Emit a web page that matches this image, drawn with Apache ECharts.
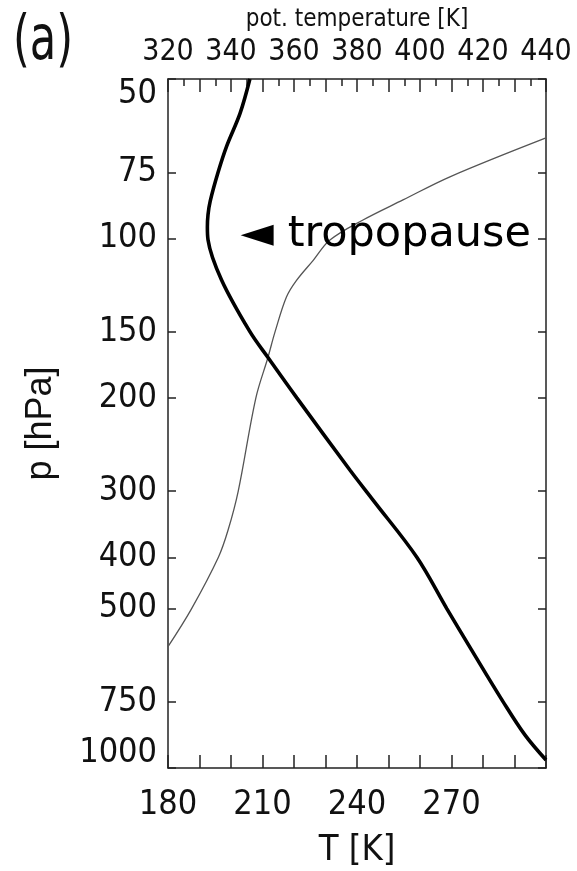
<!DOCTYPE html>
<html>
<head>
<meta charset="utf-8">
<script src="https://cdn.jsdelivr.net/npm/echarts@6/dist/echarts.min.js"></script>
<style>html,body{margin:0;padding:0;background:#fff}#c{width:577px;height:871px}</style>
</head>
<body>
<div id="c"></div>
<script>
// Pressure tick labels [hPa]
const pressureTicks = [50, 75, 100, 150, 200, 300, 400, 500, 750, 1000];
// Temperature profile (thick line): T [K] vs p [hPa]
const tempT = [206.0, 202.9, 198.6, 195.9, 193.4, 192.7, 192.5, 192.7, 197.0, 206.0, 211.8, 220.9, 237.8, 245.1, 259.0, 268.5, 276.4, 286.4, 293.3, 300.0];
const tempP = [50, 58, 67, 75, 85, 90.2, 95.2, 100.6, 119.8, 150, 168, 200, 274, 312, 400, 500, 599, 750, 866, 966];
// Potential temperature profile (thin line): theta [K] vs p [hPa]
const thetaV = [320, 327.5, 336, 339.1, 342.3, 347.9, 351.7, 354, 357.6, 360.8, 366.1, 371.4, 381.9, 394.6, 409.5, 440];
const thetaP = [590, 500, 400, 355, 300, 200, 168, 150, 129, 120, 110, 100.7, 92.3, 84.6, 76.5, 64.6];
// Annotation anchor (arrow tip region)
const tropopauseT = 208.3;
const tropopauseP = 98.6;

const FN = '"Liberation Sans Narrow", "DejaVu Sans Condensed", "Liberation Sans", sans-serif';
const chart = echarts.init(document.getElementById('c'), null, {renderer: 'canvas'});
const axisLine = {show: true, lineStyle: {color: '#222', width: 1.5}};

const tempData = tempT.map((t, i) => [t, tempP[i]]);
const thetaData = thetaV.map((t, i) => [t, thetaP[i]]);

chart.setOption({
  animation: false,
  backgroundColor: '#fff',
  graphic: [{
    type: 'text', left: 13, top: 12, scaleY: 1.28,
    style: {text: '(a)', font: '48px "DejaVu Sans Condensed", sans-serif', fill: '#111'}
  }],
  grid: {left: 168, top: 79, right: 31, bottom: 103, containLabel: false, outerBoundsMode: 'none'},
  xAxis: [
    {
      type: 'value', position: 'bottom', min: 180, max: 300, interval: 10,
      name: 'T [K]', nameLocation: 'middle', nameGap: 65,
      nameTextStyle: {fontFamily: FN, fontSize: 36, color: '#111'},
      axisLine: axisLine,
      axisTick: {show: true, inside: true, length: 13, lineStyle: {color: '#222', width: 1.5}},
      axisLabel: {
        margin: 20, fontFamily: FN, fontSize: 34, color: '#111',
        formatter: v => (v % 30 === 0 && v < 300) ? String(v) : ''
      },
      splitLine: {show: false}
    },
    {
      type: 'value', position: 'top', min: 320, max: 440, interval: 10,
      name: 'pot. temperature [K]', nameLocation: 'middle', nameGap: 46,
      nameTextStyle: {fontFamily: FN, fontSize: 24, color: '#111'},
      axisLine: axisLine,
      axisTick: {show: true, inside: true, length: 13, lineStyle: {color: '#222', width: 1.5}},
      minorTick: {show: true, splitNumber: 2, length: 7, lineStyle: {color: '#222', width: 1.5}},
      axisLabel: {
        margin: 12, fontFamily: FN, fontSize: 30, color: '#111',
        formatter: v => (v % 20 === 0) ? String(v) : ''
      },
      splitLine: {show: false}
    }
  ],
  yAxis: [
    {
      type: 'log', logBase: 10, inverse: true, min: 50, max: 1000, position: 'left',
      name: 'p [hPa]', nameLocation: 'middle', nameGap: 109, nameRotate: 90,
      nameTextStyle: {fontFamily: '"Liberation Sans", Arial, sans-serif', fontSize: 36, color: '#111'},
      axisLine: axisLine,
      axisTick: {show: true, inside: true, length: 8, customValues: pressureTicks, lineStyle: {color: '#222', width: 1.5}},
      axisLabel: {
        margin: 11, fontFamily: FN, fontSize: 34, color: '#111',
        customValues: pressureTicks,
        formatter: v => {
          if (v === 50) return '{dn|50}';
          if (v === 1000) return '{up|1000}';
          return String(v);
        },
        rich: {
          dn: {fontFamily: FN, fontSize: 34, color: '#111', padding: [30, 0, 0, 0]},
          up: {fontFamily: FN, fontSize: 34, color: '#111', padding: [0, 0, 30, 0]}
        }
      },
      splitLine: {show: false}
    },
    {
      type: 'log', logBase: 10, inverse: true, min: 50, max: 1000, position: 'right',
      axisLine: axisLine,
      axisTick: {show: true, inside: true, length: 8, customValues: pressureTicks, lineStyle: {color: '#222', width: 1.5}},
      axisLabel: {show: false},
      splitLine: {show: false}
    }
  ],
  series: [
    {
      type: 'line', xAxisIndex: 1, yAxisIndex: 0, data: thetaData,
      smooth: 0.35, showSymbol: false, clip: true,
      lineStyle: {color: '#555', width: 1.3}
    },
    {
      type: 'line', xAxisIndex: 0, yAxisIndex: 0, data: tempData,
      smooth: 0.35, showSymbol: false, clip: true,
      lineStyle: {color: '#000', width: 3.6},
      markPoint: {
        symbol: 'triangle', symbolRotate: 90, symbolSize: [21, 33],
        itemStyle: {color: '#000'},
        label: {
          show: true, position: 'right', distance: 14,
          formatter: 'tropopause',
          fontFamily: '"DejaVu Sans", sans-serif', fontSize: 43, color: '#000'
        },
        data: [{coord: [tropopauseT, tropopauseP]}]
      }
    }
  ]
});
</script>
</body>
</html>
